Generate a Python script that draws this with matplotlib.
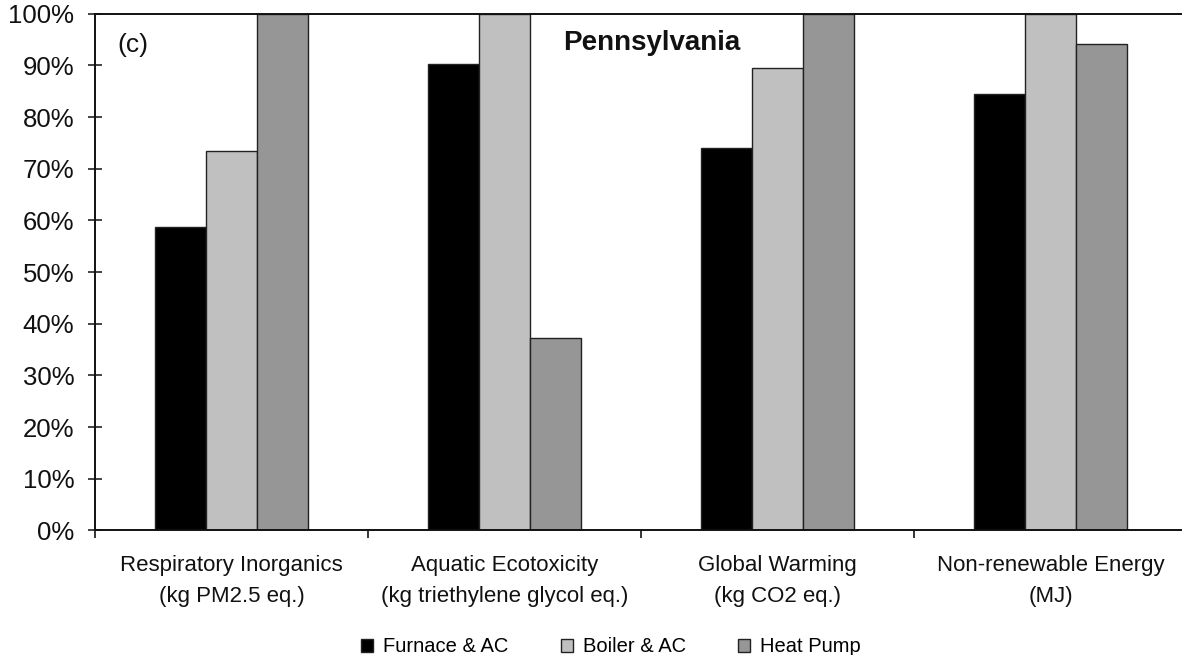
import numpy as np
import matplotlib
matplotlib.use("Agg")
import matplotlib.pyplot as plt
from matplotlib.ticker import PercentFormatter

plt.rcParams['font.family'] = ['Liberation Sans', 'DejaVu Sans']

categories = ["Respiratory Inorganics\n(kg PM2.5 eq.)",
              "Aquatic Ecotoxicity\n(kg triethylene glycol eq.)",
              "Global Warming\n(kg CO2 eq.)",
              "Non-renewable Energy\n(MJ)"]
systems = ["Furnace & AC", "Boiler & AC", "Heat Pump"]
furnace_ac = [58.7, 90.2, 74.1, 84.5]
boiler_ac = [73.5, 100.0, 89.5, 100.0]
heat_pump = [100.0, 37.3, 100.0, 94.2]
colors = ["#000000", "#c0c0c0", "#969696"]

W, H = 1182, 655
fig = plt.figure(figsize=(W / 100, H / 100), dpi=100)
# right edge of the plot runs a little past the figure
ax = fig.add_axes([95 / W, 1 - 530.4 / H, 1092 / W, 516.6 / H])

x = np.arange(len(categories))
bw = 0.187
for i, (vals, name) in enumerate(zip([furnace_ac, boiler_ac, heat_pump], systems)):
    ax.bar(x + (i - 1) * bw, np.array(vals) / 100, bw, color=colors[i],
           edgecolor="#222222", linewidth=1.0, label=name)

ax.set_xlim(-0.5, 3.5)
ax.set_ylim(0, 1)
ax.set_yticks(np.arange(0, 1.01, 0.1))
ax.yaxis.set_major_formatter(PercentFormatter(1.0, decimals=0))
ax.tick_params(axis='y', direction='inout', length=10, width=1.1,
               labelsize=18.5, pad=10, colors='#111111')

ax.set_xticks(x)
ax.set_xticklabels(categories, fontsize=16, linespacing=1.6, color='#111111')
ax.tick_params(axis='x', length=0, pad=18)
ax.set_xticks(np.arange(-0.5, 4, 1), minor=True)
ax.tick_params(axis='x', which='minor', direction='out', length=6, width=1.1)

for side in ['left', 'top', 'bottom']:
    ax.spines[side].set_linewidth(1.4)
    ax.spines[side].set_color('#111111')
ax.spines['right'].set_visible(False)

ax.text(117 / W, 1 - 45 / H, "(c)", transform=fig.transFigure, fontsize=19,
        va='center', ha='left', color='#111111')
ax.text(652 / W, 1 - 43 / H, "Pennsylvania", transform=fig.transFigure,
        fontsize=20, fontweight='bold', va='center', ha='center', color='#111111')

fig.legend(loc='center', bbox_to_anchor=(611 / W, 1 - 647 / H), ncol=3,
           frameon=False, fontsize=14.5, handlelength=0.6, handleheight=0.6,
           handletextpad=0.5, columnspacing=2.6)

fig.savefig("out.png", dpi=100)
